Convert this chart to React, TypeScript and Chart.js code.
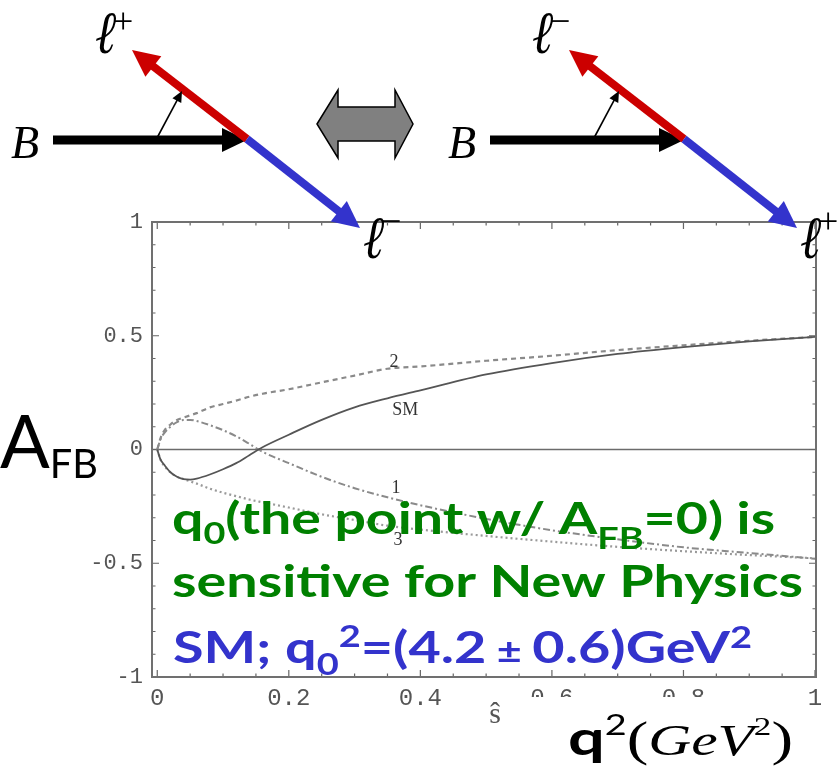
import React, { useEffect, useRef } from "react";
import { Chart, registerables } from "chart.js";

Chart.register(...registerables);

// Normalised dilepton mass s-hat and forward-backward asymmetry curves
const S_HAT = [0, 0.005, 0.01, 0.02, 0.03, 0.04, 0.05, 0.06, 0.08, 0.1, 0.12, 0.14, 0.16, 0.2, 0.25, 0.3, 0.35, 0.4, 0.5, 0.6, 0.7, 0.8, 0.9, 1.0];
const AFB_SM = [0, -0.045, -0.065, -0.1, -0.12, -0.13, -0.132, -0.128, -0.11, -0.087, -0.06, -0.025, 0.01, 0.065, 0.13, 0.185, 0.225, 0.26, 0.33, 0.38, 0.42, 0.45, 0.475, 0.495];
const AFB_1 = [0, 0.045, 0.07, 0.1, 0.12, 0.13, 0.13, 0.125, 0.107, 0.085, 0.058, 0.025, -0.01, -0.06, -0.12, -0.17, -0.21, -0.245, -0.305, -0.355, -0.395, -0.43, -0.455, -0.48];
const AFB_2 = [0, 0.05, 0.08, 0.11, 0.13, 0.14, 0.15, 0.16, 0.185, 0.2, 0.215, 0.232, 0.245, 0.265, 0.295, 0.325, 0.355, 0.365, 0.39, 0.412, 0.437, 0.458, 0.478, 0.495];
const AFB_3 = [0, -0.045, -0.07, -0.1, -0.12, -0.13, -0.14, -0.15, -0.172, -0.19, -0.205, -0.22, -0.232, -0.255, -0.285, -0.31, -0.335, -0.352, -0.38, -0.405, -0.428, -0.447, -0.464, -0.478];

const X_TICKS = [0, 0.2, 0.4, 0.6, 0.8, 1];
const X_TICK_LABELS = ["0", "0.2", "0.4", "0.6", "0.8", "1"];
const Y_TICKS = [-1, -0.5, 0, 0.5, 1];
const Y_TICK_LABELS = ["-1", "-0.5", "0", "0.5", "1"];

// curve name tags: [text, s-hat, A_FB]
const CURVE_TAGS: [string, number, number][] = [
  ["2", 0.36, 0.385],
  ["SM", 0.377, 0.172],
  ["1", 0.363, -0.172],
  ["3", 0.366, -0.4],
];

type Run = { t: string; font: string; dy?: number };

function drawRuns(ctx: CanvasRenderingContext2D, runs: Run[], x: number, y: number, width: number | null, color: string) {
  let total = 0;
  for (const r of runs) {
    ctx.font = r.font;
    total += ctx.measureText(r.t).width;
  }
  const sx = width ? width / total : 1;
  ctx.save();
  ctx.translate(x, y);
  ctx.scale(sx, 1);
  ctx.fillStyle = color;
  ctx.textBaseline = "alphabetic";
  ctx.textAlign = "left";
  let cx = 0;
  for (const r of runs) {
    ctx.font = r.font;
    ctx.fillText(r.t, cx, r.dy || 0);
    cx += ctx.measureText(r.t).width;
  }
  ctx.restore();
}

function arrow(ctx: CanvasRenderingContext2D, x1: number, y1: number, x2: number, y2: number, color: string, w: number, hl: number, hw: number) {
  const a = Math.atan2(y2 - y1, x2 - x1);
  const bx = x2 - hl * Math.cos(a);
  const by = y2 - hl * Math.sin(a);
  ctx.strokeStyle = color;
  ctx.lineWidth = w;
  ctx.lineCap = "butt";
  ctx.beginPath();
  ctx.moveTo(x1, y1);
  ctx.lineTo(bx + Math.cos(a), by + Math.sin(a));
  ctx.stroke();
  ctx.fillStyle = color;
  ctx.beginPath();
  ctx.moveTo(x2, y2);
  ctx.lineTo(bx + hw * Math.sin(a), by - hw * Math.cos(a));
  ctx.lineTo(bx - hw * Math.sin(a), by + hw * Math.cos(a));
  ctx.closePath();
  ctx.fill();
}

// the script ell, drawn slanted and slim like a math italic glyph
function ell(ctx: CanvasRenderingContext2D, x: number, y: number) {
  ctx.save();
  ctx.translate(x, y);
  ctx.transform(0.82, 0, -0.18, 1, 0, 0);
  ctx.font = '60px "DejaVu Serif", "Liberation Serif", serif';
  ctx.fillText("\u2113", 0, 0);
  ctx.restore();
}

function decay(ctx: CanvasRenderingContext2D, ox: number, upper: string, lower: string) {
  const serif = '"Liberation Serif", "Times New Roman", serif';
  ctx.save();
  ctx.textAlign = "left";
  ctx.textBaseline = "alphabetic";
  ctx.fillStyle = "#000";
  ctx.font = `italic 46px ${serif}`;
  ctx.fillText("B", ox + 11, 158);
  arrow(ctx, ox + 53, 140, ox + 247, 140, "#000", 9, 25, 12);
  arrow(ctx, ox + 247, 139, ox + 132, 50, "#cc0000", 8, 27, 13);
  arrow(ctx, ox + 247, 139, ox + 360, 228, "#3333cc", 8, 27, 13);
  arrow(ctx, ox + 157, 138, ox + 182, 91, "#000", 1.6, 11, 5);
  ctx.fillStyle = "#000";
  ell(ctx, ox + 91, 53);
  ell(ctx, ox + 359, 258);
  ctx.font = `36px ${serif}`;
  ctx.fillText(upper, ox + 113, 33);
  ctx.fillText(lower, ox + 381, 233);
  ctx.restore();
}

const decorPlugin = {
  id: "afbDecor",
  beforeDatasetsDraw(chart: any) {
    const { ctx, chartArea: a, scales } = chart;
    const x = scales.x;
    const y = scales.y;
    ctx.save();
    ctx.strokeStyle = "#6b6b6b";
    ctx.lineWidth = 1.6;
    const y0 = y.getPixelForValue(0);
    ctx.beginPath();
    ctx.moveTo(a.left, y0);
    ctx.lineTo(a.right, y0);
    ctx.stroke();
    // frame ticks, pointing inwards on all four sides
    ctx.strokeStyle = "#666";
    ctx.lineWidth = 1.2;
    for (let i = 0; i <= 20; i++) {
      const v = i * 0.05;
      const px = x.getPixelForValue(v);
      const len = i % 4 === 0 ? 7 : 3.5;
      ctx.beginPath();
      ctx.moveTo(px, a.bottom);
      ctx.lineTo(px, a.bottom - len);
      ctx.moveTo(px, a.top);
      ctx.lineTo(px, a.top + len);
      ctx.stroke();
    }
    for (let i = -10; i <= 10; i++) {
      const v = i * 0.1;
      const py = y.getPixelForValue(v);
      const len = i % 5 === 0 ? 7 : 3.5;
      ctx.beginPath();
      ctx.moveTo(a.left, py);
      ctx.lineTo(a.left + len, py);
      ctx.moveTo(a.right, py);
      ctx.lineTo(a.right - len, py);
      ctx.stroke();
    }
    ctx.strokeStyle = "#707070";
    ctx.lineWidth = 2;
    ctx.strokeRect(a.left, a.top, a.right - a.left, a.bottom - a.top);
    ctx.restore();
  },
  afterDraw(chart: any) {
    const { ctx, scales } = chart;
    const x = scales.x;
    const y = scales.y;
    const serif = '"Liberation Serif", "Times New Roman", serif';
    const hand = 'Lato, "Noto Sans", sans-serif';
    ctx.save();

    // curve tags
    ctx.fillStyle = "#333";
    ctx.font = `18px ${serif}`;
    ctx.textAlign = "center";
    ctx.textBaseline = "middle";
    for (const [t, sv, av] of CURVE_TAGS) {
      ctx.fillText(t, x.getPixelForValue(sv), y.getPixelForValue(av));
    }

    // axis symbol under the frame
    ctx.fillStyle = "#555";
    ctx.font = `30px ${serif}`;
    ctx.textBaseline = "alphabetic";
    ctx.fillText("\u015D", 495, 723);

    // y-axis title
    drawRuns(ctx, [
      { t: "A", font: `74px ${hand}` },
      { t: "FB", font: `40px ${hand}`, dy: 10 },
    ], 0, 468, 98, "#000");

    // annotation text
    const big = `bold 44px ${hand}`;
    const sub = `bold 30px ${hand}`;
    drawRuns(ctx, [
      { t: "q", font: big },
      { t: "0", font: sub, dy: 10 },
      { t: "(the point w/ A", font: big },
      { t: "FB", font: sub, dy: 15 },
      { t: "=0) is", font: big },
    ], 172, 534, 603, "#008000");
    drawRuns(ctx, [{ t: "sensitive for New Physics", font: big }], 172, 597, 631, "#008000");
    drawRuns(ctx, [
      { t: "SM; q", font: big },
      { t: "0", font: sub, dy: 12 },
      { t: "2", font: sub, dy: -16 },
      { t: "=(4.2", font: big },
      { t: " \u00B1 ", font: `bold 34px ${hand}` },
      { t: "0.6)GeV", font: big },
      { t: "2", font: sub, dy: -15 },
    ], 173, 663, 579, "#3333cc");

    // unit label on a white patch below the frame
    ctx.fillStyle = "#fff";
    ctx.fillRect(515, 697, 290, 74);
    drawRuns(ctx, [
      { t: "q", font: `bold 48px ${hand}` },
      { t: "2", font: `28px ${hand}`, dy: -20 },
      { t: "(", font: `48px ${serif}` },
      { t: "GeV", font: `italic 44px ${serif}` },
      { t: "2", font: `26px ${serif}`, dy: -20 },
      { t: ")", font: `48px ${serif}` },
    ], 568, 755, 225, "#000");

    // decay diagrams and the swap symbol
    decay(ctx, 0, "+", "\u2212");
    decay(ctx, 437, "\u2212", "+");
    ctx.fillStyle = "#808080";
    ctx.strokeStyle = "#000";
    ctx.lineWidth = 1.5;
    ctx.beginPath();
    ctx.moveTo(317, 124);
    ctx.lineTo(338, 90);
    ctx.lineTo(338, 107);
    ctx.lineTo(395, 107);
    ctx.lineTo(395, 90);
    ctx.lineTo(413, 124);
    ctx.lineTo(395, 158);
    ctx.lineTo(395, 141);
    ctx.lineTo(338, 141);
    ctx.lineTo(338, 158);
    ctx.closePath();
    ctx.fill();
    ctx.stroke();
    ctx.restore();
  },
};

function series(label: string, values: number[], color: string, width: number, dash: number[]) {
  return {
    label,
    data: S_HAT.map((s, i) => ({ x: s, y: values[i] })),
    showLine: true,
    borderColor: color,
    borderWidth: width,
    borderDash: dash,
    pointRadius: 0,
    fill: false,
    cubicInterpolationMode: "monotone" as const,
  };
}

export default function App() {
  const ref = useRef<HTMLCanvasElement | null>(null);
  useEffect(() => {
    if (!ref.current) return;
    const mono = '"Liberation Mono", "DejaVu Sans Mono", monospace';
    const chart = new Chart(ref.current, {
      type: "scatter",
      data: {
        datasets: [
          series("SM", AFB_SM, "#555", 1.8, []),
          series("2", AFB_2, "#8a8a8a", 2.2, [5, 4]),
          series("1", AFB_1, "#8a8a8a", 2, [7, 3, 2, 3]),
          series("3", AFB_3, "#9a9a9a", 2.2, [2, 3]),
        ],
      },
      options: {
        responsive: false,
        maintainAspectRatio: false,
        devicePixelRatio: 1,
        animation: false,
        events: [],
        layout: { padding: { top: 222, right: 22, left: 0, bottom: 0 } },
        plugins: { legend: { display: false }, tooltip: { enabled: false } },
        scales: {
          x: {
            type: "linear",
            min: -0.008,
            max: 1.0015,
            grid: { display: false, drawTicks: false },
            border: { display: false },
            afterBuildTicks: (s: any) => {
              s.ticks = X_TICKS.map((v) => ({ value: v }));
            },
            afterFit: (s: any) => {
              s.height = 94;
            },
            ticks: {
              autoSkip: false,
              maxRotation: 0,
              padding: 7,
              color: "#555",
              font: { family: mono, size: 24 },
              callback: (v: any) => X_TICK_LABELS[X_TICKS.indexOf(Number(v))] ?? "",
            },
          },
          y: {
            type: "linear",
            min: -1,
            max: 1,
            grid: { display: false, drawTicks: false },
            border: { display: false },
            afterBuildTicks: (s: any) => {
              s.ticks = Y_TICKS.map((v) => ({ value: v }));
            },
            afterFit: (s: any) => {
              s.width = 152;
            },
            ticks: {
              autoSkip: false,
              padding: 9,
              color: "#555",
              font: { family: mono, size: 22 },
              callback: (v: any) => Y_TICK_LABELS[Y_TICKS.indexOf(Number(v))] ?? "",
            },
          },
        },
      },
      plugins: [decorPlugin],
    });
    return () => chart.destroy();
  }, []);
  return (
    <div style={{ position: "absolute", left: 0, top: 0, width: 838, height: 771, background: "#fff" }}>
      <canvas ref={ref} width={838} height={771} style={{ display: "block" }} />
    </div>
  );
}
